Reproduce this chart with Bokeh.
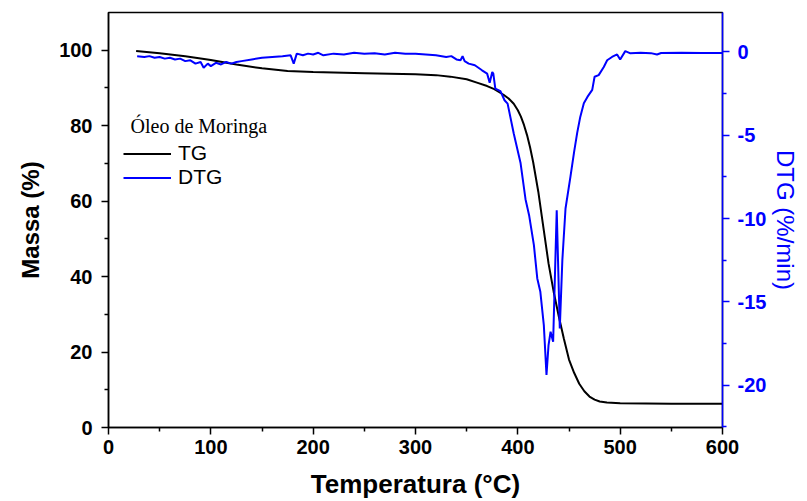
from bokeh.plotting import figure
from bokeh.models import Range1d, LinearAxis, FixedTicker, Legend, LegendItem, Label
from bokeh.embed import file_html
from bokeh.resources import INLINE

# TG curve (Massa %)
tg_temp = [27, 50, 75, 100, 125, 150, 175, 200, 250, 300, 320, 334, 350, 360, 370, 377, 386,
           391, 396, 400, 403, 406, 409, 412, 415, 420, 425, 430, 435, 440, 445, 450, 455, 460,
           465, 470, 475, 480, 487, 500, 550, 600]
tg_mass = [99.8, 99.2, 98.4, 97.4, 96.2, 95.2, 94.5, 94.2, 93.9, 93.6, 93.4, 93.0, 92.3, 91.4, 90.5,
           89.7, 88.2, 87.2, 85.8, 84.1, 82.4, 80.2, 77.5, 74.2, 70.3, 62.5, 53.0, 43.5, 36.0, 29.5,
           23.5, 18.0, 14.5, 11.6, 9.6, 8.2, 7.4, 6.9, 6.6, 6.4, 6.3, 6.3]

# DTG curve (%/min)
dtg_temp = [28, 35, 40, 45, 50, 55, 60, 65, 70, 75, 80, 85, 90, 93, 97, 100, 105, 110, 115, 120,
            125, 130, 140, 150, 160, 170, 178, 181, 184, 190, 195, 200, 205, 210, 220, 230, 240,
            250, 260, 270, 280, 290, 300, 310, 320, 330, 335, 340, 344, 346, 348, 352, 358, 365,
            370, 372.5, 375, 376, 378, 383, 387, 390, 396, 402.6, 407.5, 411, 415.7, 419, 422,
            425.4, 428, 430, 432, 434.5, 438, 441, 443.5, 446.6, 451.5, 455, 458, 461, 464.5,
            468, 472.7, 475, 479, 484, 487.3, 492, 497, 500, 505, 510, 520, 530, 536, 540, 560,
            580, 600]
dtg_val = [-0.26, -0.3, -0.25, -0.35, -0.3, -0.4, -0.35, -0.45, -0.4, -0.55, -0.5, -0.7, -0.6, -0.95,
           -0.7, -0.85, -0.65, -0.75, -0.6, -0.7, -0.6, -0.55, -0.45, -0.35, -0.3, -0.25, -0.2, -0.7,
           -0.1, -0.2, -0.1, -0.15, -0.05, -0.2, -0.1, -0.15, -0.05, -0.1, -0.08, -0.15, -0.05, -0.1,
           -0.1, -0.15, -0.2, -0.3, -0.25, -0.45, -0.5, -0.25, -0.55, -0.7, -0.8, -1.1, -1.3, -1.85,
           -1.2, -1.29, -2.2, -2.35, -2.9, -3.1, -4.9, -6.65, -8.84, -9.8, -11.6, -13.6, -14.4,
           -16.4, -19.4, -17.6, -16.8, -17.4, -9.5, -16.6, -12.5, -9.4, -7.45, -6.0, -4.86, -3.9,
           -3.08, -2.7, -2.28, -1.49, -1.39, -0.9, -0.5, -0.3, -0.15, -0.45, 0.05, -0.08, -0.05,
           -0.07, -0.15, -0.06, -0.05, -0.06, -0.06]

x_ticks = [0, 100, 200, 300, 400, 500, 600]
x_minor = [50, 150, 250, 350, 450, 550]
y_ticks = [0, 20, 40, 60, 80, 100]
y_minor = [10, 30, 50, 70, 90]
dtg_ticks = [-20, -15, -10, -5, 0]
dtg_tick_labels = ["-20", "-15", "-10", "-5", "0"]
dtg_minor = [-22.5, -17.5, -12.5, -7.5, -2.5]

BLUE = "#0000FF"
FONT = "Liberation Sans"

p = figure(width=807, height=501, output_backend="svg", toolbar_location=None,
           x_range=Range1d(0, 600), y_range=Range1d(0, 110),
           min_border_left=108, min_border_right=85, min_border_top=12, min_border_bottom=71)
p.extra_y_ranges = {"dtg": Range1d(-22.55, 2.37)}
p.grid.visible = False
p.outline_line_color = "black"
p.outline_line_width = 1.5

def style(ax, color, ticks, minor):
    ax.ticker = FixedTicker(ticks=ticks, minor_ticks=minor)
    ax.axis_line_color = color
    ax.axis_line_width = 1.5
    ax.major_tick_line_color = color
    ax.minor_tick_line_color = color
    ax.major_tick_line_width = 1.5
    ax.minor_tick_line_width = 1.5
    ax.major_tick_in = 0
    ax.major_tick_out = 7
    ax.minor_tick_in = 0
    ax.minor_tick_out = 4
    ax.major_label_text_font = FONT
    ax.major_label_text_font_style = "bold"
    ax.major_label_text_font_size = "20px"
    ax.major_label_text_color = color
    ax.axis_label_text_font = FONT
    ax.axis_label_text_font_size = "24px"
    ax.axis_label_text_color = color

xa = p.xaxis[0]
style(xa, "black", x_ticks, x_minor)
xa.axis_label = "Temperatura (°C)"
xa.axis_label_text_font_style = "bold"
xa.axis_label_text_font_size = "26px"
xa.major_label_standoff = 5
xa.axis_label_standoff = 12

ya = p.yaxis[0]
style(ya, "black", y_ticks, y_minor)
ya.axis_label = "Massa (%)"
ya.axis_label_text_font_style = "bold"
ya.major_label_standoff = 9
ya.axis_label_standoff = 12

ra = LinearAxis(y_range_name="dtg")
style(ra, BLUE, dtg_ticks, dtg_minor)
ra.major_label_overrides = {t: s for t, s in zip(dtg_ticks, dtg_tick_labels)}
ra.axis_label = "DTG (%/min)"
ra.axis_label_text_font_style = "normal"
ra.major_label_standoff = 8
ra.axis_label_standoff = 3
p.add_layout(ra, "right")

r_tg = p.line(tg_temp, tg_mass, line_color="black", line_width=2)
r_dtg = p.line(dtg_temp, dtg_val, line_color=BLUE, line_width=2, y_range_name="dtg")

legend = Legend(items=[LegendItem(label="TG", renderers=[r_tg]),
                       LegendItem(label="DTG", renderers=[r_dtg])],
                location=(15, 238), orientation="vertical",
                background_fill_alpha=0, border_line_alpha=0, padding=0, margin=0,
                spacing=0, glyph_width=48, glyph_height=23, label_height=23,
                label_standoff=7, label_text_font=FONT, label_text_font_size="21px",
                label_text_color="black")
p.add_layout(legend)

p.add_layout(Label(x=21.5, y=79.8, text="Óleo de Moringa", text_font="Liberation Serif",
                   text_font_size="20px", text_baseline="alphabetic", text_color="black"))

open("out.html", "w").write(file_html(p, INLINE))
